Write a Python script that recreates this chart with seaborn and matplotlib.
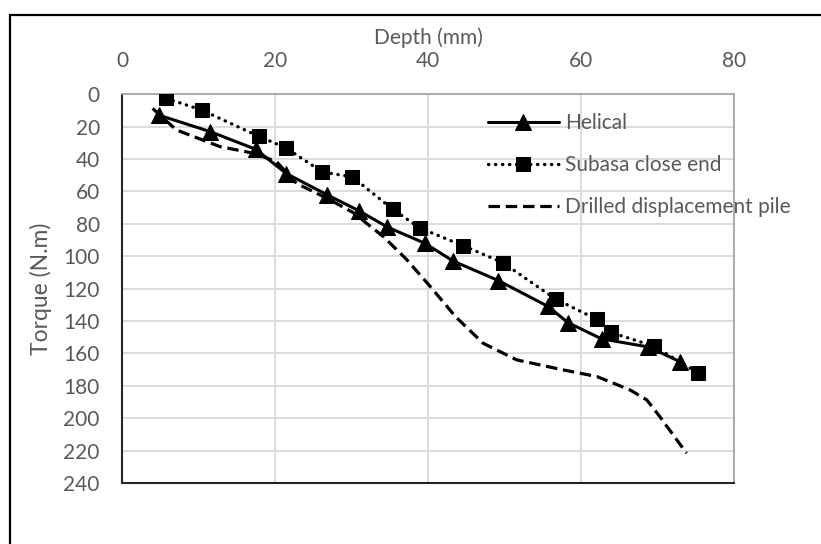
import matplotlib
matplotlib.use("Agg")
import matplotlib.pyplot as plt
import seaborn as sns
import pandas as pd
from matplotlib.lines import Line2D

# ---- data ----
helical_depth = [4.9, 11.5, 17.5, 21.5, 26.8, 31.0, 34.7, 39.6, 43.3, 49.2, 55.7, 58.3, 62.7, 68.8, 72.9]
helical_torque = [13, 23, 34, 49, 62, 72, 82, 92, 103, 115, 131, 141, 151, 156, 165]

subasa_depth = [5.8, 10.4, 17.9, 21.4, 26.2, 30.1, 35.4, 38.9, 44.6, 49.8, 56.7, 62.1, 63.9, 69.5, 75.3]
subasa_torque = [2.5, 9.7, 26, 33, 48, 51, 71, 82.5, 93.5, 104, 126.5, 139, 147, 155.5, 172]

drilled_depth = [4.0, 7.1, 12.8, 17.2, 20.2, 22.8, 26.8, 30.2, 34.2, 37.2, 40.3, 43.6, 47.2, 51.6,
                 57.7, 62.1, 66.4, 68.6, 70.3, 73.8]
drilled_torque = [8.7, 22, 32.3, 36.4, 41.6, 55, 64.2, 73, 88, 102, 118.7, 137.3, 153.7, 164,
                  170.2, 174.3, 182.5, 188.7, 199, 221.6]

series_labels = ["Helical", "Subasa close end", "Drilled displacement pile"]
x_ticks = [0, 20, 40, 60, 80]
y_ticks = list(range(0, 241, 20))

sns.set_theme(style="white")
plt.rcParams['font.family'] = ['Lato', 'DejaVu Sans']

TXT = '#595959'
W, H = 821, 544
fig = plt.figure(figsize=(W / 100, H / 100), dpi=100)
ax = fig.add_axes([122 / W, 1 - 483 / H, (734 - 122) / W, (483 - 94.3) / H])

df_h = pd.DataFrame({'depth': helical_depth, 'torque': helical_torque})
df_s = pd.DataFrame({'depth': subasa_depth, 'torque': subasa_torque})
df_d = pd.DataFrame({'depth': drilled_depth, 'torque': drilled_torque})

sns.lineplot(data=df_h, x='depth', y='torque', ax=ax, sort=False, estimator=None,
             color='black', lw=2.2, marker='^', markersize=11,
             markeredgecolor='black', markerfacecolor='black', label=series_labels[0], zorder=4)
sns.lineplot(data=df_s, x='depth', y='torque', ax=ax, sort=False, estimator=None,
             color='black', lw=2.4, linestyle=(0, (0.1, 2.0)), dash_capstyle='round',
             marker='s', markersize=10, markeredgecolor='black', markerfacecolor='black',
             label=series_labels[1], zorder=3)
sns.lineplot(data=df_d, x='depth', y='torque', ax=ax, sort=False, estimator=None,
             color='black', lw=2.3, linestyle=(0, (3.6, 1.8)),
             label=series_labels[2], zorder=2)

ax.set_xlim(0, 80)
ax.set_ylim(240, 0)
ax.set_xticks(x_ticks)
ax.set_yticks(y_ticks)
ax.xaxis.tick_top()
ax.xaxis.set_label_position('top')
ax.tick_params(axis='both', length=0, labelsize=15, labelcolor=TXT)
ax.tick_params(axis='x', pad=17)
ax.tick_params(axis='y', pad=16)
ax.set_xlabel('Depth (mm)', fontsize=15, color=TXT, labelpad=5)
ax.set_ylabel('Torque (N.m)', fontsize=16.5, color=TXT, labelpad=8)

ax.grid(True, color='#d9d9d9', lw=1.3)
ax.set_axisbelow(True)
for side in ['top', 'right']:
    ax.spines[side].set_color('#a6a6a6')
    ax.spines[side].set_linewidth(1.3)
for side in ['left', 'bottom']:
    ax.spines[side].set_color('#262626')
    ax.spines[side].set_linewidth(1.5)

ax.legend(loc='upper left', bbox_to_anchor=(0.598, 0.951), frameon=False,
          fontsize=15, labelcolor=TXT, handlelength=3.4, handletextpad=0.3,
          labelspacing=1.05, borderpad=0, borderaxespad=0)

# outer chart border (only left and top edges visible in the reference)
fig.add_artist(Line2D([10 / W, 10 / W], [0, 1 - 15 / H], color='black', lw=1.6,
                      transform=fig.transFigure))
fig.add_artist(Line2D([10 / W, 1], [1 - 15 / H, 1 - 15 / H], color='black', lw=1.6,
                      transform=fig.transFigure))

fig.savefig('out.png', dpi=100)
